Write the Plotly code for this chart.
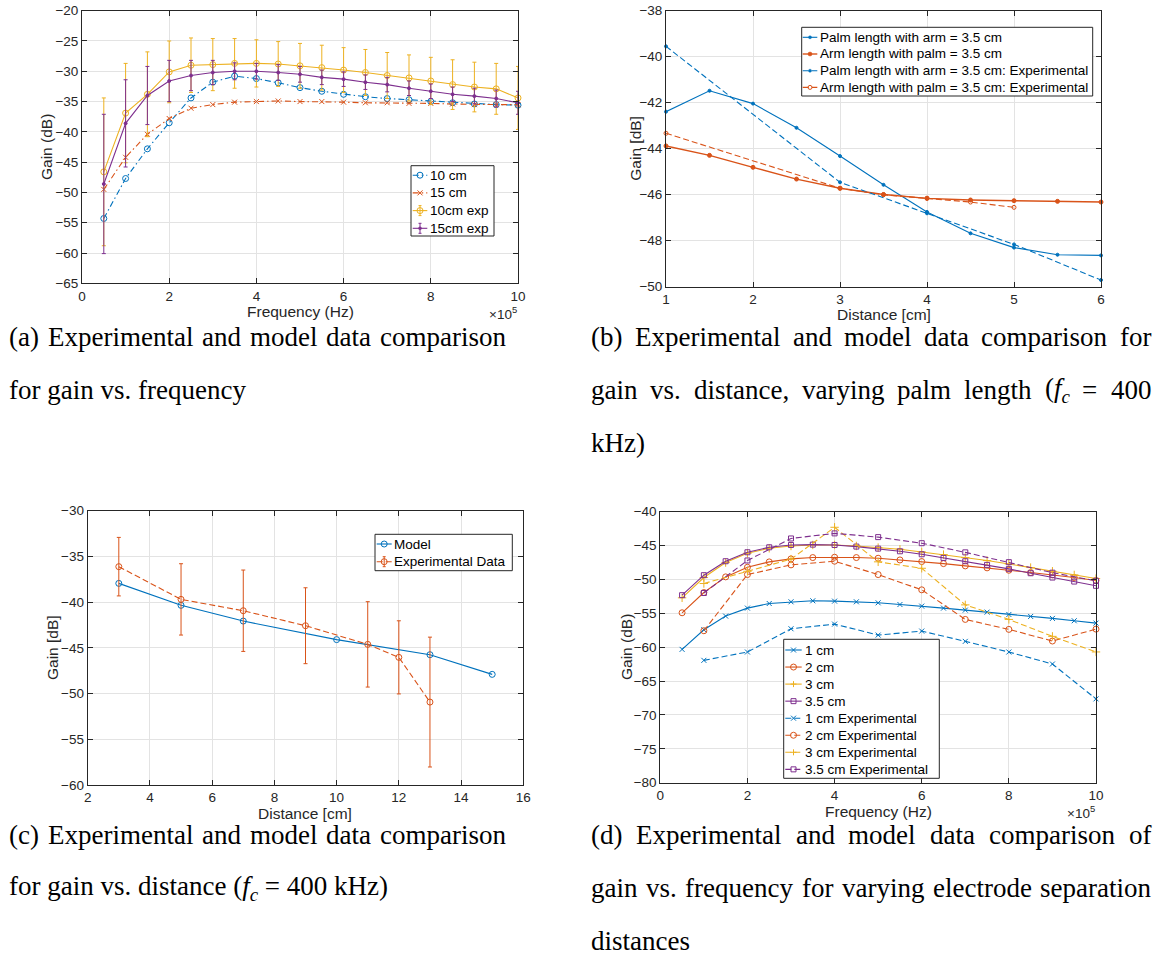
import re
import plotly.graph_objects as go

# ---------------- data ----------------
# (a) gain vs frequency
freq_a = [50000, 100000, 150000, 200000, 250000, 300000, 350000, 400000, 450000, 500000,
          550000, 600000, 650000, 700000, 750000, 800000, 850000, 900000, 950000, 1000000]
gain_10cm = [-54.3, -47.7, -42.8, -38.5, -34.4, -31.8, -30.8, -31.2, -31.9, -32.7,
             -33.3, -33.8, -34.2, -34.5, -34.7, -35.0, -35.2, -35.4, -35.5, -35.6]
gain_15cm = [-49.5, -44.2, -40.4, -37.8, -36.1, -35.5, -35.1, -35.0, -34.9, -35.0,
             -35.0, -35.1, -35.2, -35.2, -35.3, -35.3, -35.4, -35.5, -35.5, -35.5]
gain_10cm_exp = [-46.6, -36.9, -33.8, -30.1, -29.0, -28.9, -28.7, -28.7, -28.8, -29.1,
                 -29.4, -29.8, -30.2, -30.7, -31.1, -31.6, -32.2, -32.6, -32.9, -34.4]
err_10cm_exp = [12.2, 8.2, 7.0, 5.1, 4.5, 4.3, 4.1, 3.9, 3.7, 3.7,
                3.7, 3.7, 3.8, 3.8, 3.8, 3.9, 4.1, 4.1, 4.2, 5.2]
gain_15cm_exp = [-48.6, -38.6, -34.0, -31.6, -30.7, -30.2, -30.0, -30.0, -30.2, -30.5,
                 -31.0, -31.3, -31.8, -32.2, -32.8, -33.3, -33.8, -34.1, -34.5, -35.2]
err_15cm_exp = [11.5, 7.2, 4.8, 3.4, 2.5, 2.0, 1.4, 1.3, 1.3, 1.3,
                1.2, 1.2, 1.2, 1.2, 1.2, 1.2, 1.2, 1.3, 1.4, 1.9]

# (b) gain vs distance
dist_b = [1, 1.5, 2, 2.5, 3, 3.5, 4, 4.5, 5, 5.5, 6]
palm_model = [-42.39, -41.48, -42.04, -43.09, -44.32, -45.57, -46.75, -47.68, -48.30, -48.61, -48.64]
arm_model = [-43.88, -44.29, -44.81, -45.32, -45.72, -45.99, -46.16, -46.23, -46.26, -46.29, -46.32]
palm_exp_dist = [1, 3, 4, 5, 6]
palm_exp = [-39.55, -45.46, -46.81, -48.16, -49.71]
arm_exp_dist = [1, 3, 3.5, 4, 4.5, 5]
arm_exp = [-43.33, -45.72, -46.0, -46.15, -46.32, -46.55]

# (c) gain vs distance at 400 kHz
dist_model_c = [3, 5, 7, 10, 13, 15]
model_c = [-37.95, -40.35, -42.07, -44.1, -45.75, -47.9]
dist_exp_c = [3, 5, 7, 9, 11, 12, 13]
exp_c = [-36.12, -39.7, -40.94, -42.58, -44.62, -46.04, -50.93]
err_c = [3.2, 3.9, 4.45, 4.15, 4.67, 4.0, 7.1]

# (d) gain vs frequency, electrode separation
freq_d_model = freq_a
g_1cm = [-60.32, -57.42, -55.41, -54.23, -53.55, -53.3, -53.15, -53.2, -53.3, -53.45,
         -53.7, -53.94, -54.23, -54.53, -54.82, -55.17, -55.46, -55.75, -56.1, -56.44]
g_2cm = [-54.92, -51.93, -49.62, -48.2, -47.41, -46.97, -46.77, -46.72, -46.77, -46.87,
         -47.12, -47.36, -47.66, -48.0, -48.29, -48.64, -48.98, -49.33, -49.72, -50.16]
g_3cm = [-52.71, -49.72, -47.51, -46.13, -45.4, -45.06, -44.91, -44.91, -45.06, -45.3,
         -45.55, -45.94, -46.33, -46.77, -47.21, -47.71, -48.25, -48.79, -49.33, -49.87]
g_35cm = [-52.32, -49.37, -47.31, -45.99, -45.25, -44.91, -44.86, -44.91, -45.15, -45.45,
          -45.84, -46.28, -46.82, -47.31, -47.85, -48.44, -49.08, -49.72, -50.31, -50.94]
freq_d_exp = [100000, 200000, 300000, 400000, 500000, 600000, 700000, 800000, 900000, 1000000]
e_1cm = [-61.94, -60.71, -57.28, -56.59, -58.21, -57.62, -59.14, -60.71, -62.48, -67.63]
e_2cm = [-57.57, -49.28, -47.85, -47.31, -49.28, -51.53, -55.9, -57.37, -59.09, -57.33]
e_3cm = [-50.6, -48.8, -47.0, -42.3, -47.4, -48.35, -53.75, -55.9, -58.4, -60.7]
e_35cm = [-52.0, -47.2, -43.95, -43.2, -43.75, -44.65, -46.0, -47.45, -49.0, -50.2]

# tick labels
freq_tickvals = [0, 200000, 400000, 600000, 800000, 1000000]
freq_ticktext = ["0", "2", "4", "6", "8", "10"]
ticks_a_y = [-20, -25, -30, -35, -40, -45, -50, -55, -60, -65]
ticks_b_x = [1, 2, 3, 4, 5, 6]
ticks_b_y = [-38, -40, -42, -44, -46, -48, -50]
ticks_c_x = [2, 4, 6, 8, 10, 12, 14, 16]
ticks_c_y = [-30, -35, -40, -45, -50, -55, -60]
ticks_d_y = [-40, -45, -50, -55, -60, -65, -70, -75, -80]

captions = {
    "a": [("(a) Experimental and model data comparison", True),
          ("for gain vs. frequency", False)],
    "b": [("(b) Experimental and model data comparison for", True),
          ("gain vs. distance, varying palm length (<i>f<sub>c</sub></i> = 400", True),
          ("kHz)", False)],
    "c": [("(c) Experimental and model data comparison", True),
          ("for gain vs. distance (<i>f<sub>c</sub></i> = 400 kHz)", False)],
    "d": [("(d) Experimental and model data comparison of", True),
          ("gain vs. frequency for varying electrode separation", True),
          ("distances", False)],
}

# ---------------- styling ----------------
W, H = 1158, 974
SANS = "Liberation Sans, Arial, sans-serif"
SERIF = "Liberation Serif, Times New Roman, serif"
BLUE, ORANGE, YELLOW, PURPLE = "#0072BD", "#D95319", "#EDB120", "#7E2F8E"
TXT = "#262626"
GRID = "#e3e3e3"
TICK_SIZE = 13.5
LABEL_SIZE = 15.5
LEG_SIZE = 13.5
CAP_SIZE = 27
SOLID = "solid"
DASH = "6px,3px"
DASHDOT = "6px,3px,1.5px,3px"


def px(x):
    return x / W


def py(y):
    return 1 - y / H


# series specs: (x, y, name, color, dash, symbol, marker size, line width, errors)
series = {
    "a": [(freq_a, gain_10cm, "10 cm", BLUE, DASHDOT, "circle-open", 6, 1.1, None),
          (freq_a, gain_15cm, "15 cm", ORANGE, DASHDOT, "x-thin", 5, 1.1, None),
          (freq_a, gain_10cm_exp, "10cm exp", YELLOW, SOLID, "circle-open", 6, 1.1, err_10cm_exp),
          (freq_a, gain_15cm_exp, "15cm exp", PURPLE, SOLID, "circle", 3, 1.1, err_15cm_exp)],
    "b": [(dist_b, palm_model, "Palm length with arm = 3.5 cm", BLUE, SOLID, "circle", 3, 1.1, None),
          (dist_b, arm_model, "Arm length with palm = 3.5 cm", ORANGE, SOLID, "circle", 4, 1.4, None),
          (palm_exp_dist, palm_exp, "Palm length with arm = 3.5 cm: Experimental", BLUE, DASH, "circle", 3, 1.1, None),
          (arm_exp_dist, arm_exp, "Arm length with palm = 3.5 cm: Experimental", ORANGE, DASH, "circle-open", 4, 1.1, None)],
    "c": [(dist_model_c, model_c, "Model", BLUE, SOLID, "circle-open", 6, 1.1, None),
          (dist_exp_c, exp_c, "Experimental Data", ORANGE, DASH, "circle-open", 6, 1.1, err_c)],
    "d": [(freq_d_model, g_1cm, "1 cm", BLUE, SOLID, "x-thin", 5, 1.1, None),
          (freq_d_model, g_2cm, "2 cm", ORANGE, SOLID, "circle-open", 6, 1.1, None),
          (freq_d_model, g_3cm, "3 cm", YELLOW, SOLID, "cross-thin", 6, 1.1, None),
          (freq_d_model, g_35cm, "3.5 cm", PURPLE, SOLID, "square-open", 5, 1.1, None),
          (freq_d_exp, e_1cm, "1 cm Experimental", BLUE, DASH, "x-thin", 5, 1.1, None),
          (freq_d_exp, e_2cm, "2 cm Experimental", ORANGE, DASH, "circle-open", 6, 1.1, None),
          (freq_d_exp, e_3cm, "3 cm Experimental", YELLOW, DASH, "cross-thin", 6, 1.1, None),
          (freq_d_exp, e_35cm, "3.5 cm Experimental", PURPLE, DASH, "square-open", 5, 1.1, None)],
}
AX_IDX = {"a": "", "b": "2", "c": "3", "d": "4"}

# panel boxes in pixels: (left, top, right, bottom)
boxes = {
    "a": (82, 10.7, 518, 283.3),
    "b": (666, 10.7, 1101, 286.7),
    "c": (87.7, 510.7, 523.3, 785),
    "d": (660.3, 511.7, 1096, 782.7),
}

fig = go.Figure()
for key, lst in series.items():
    idx = AX_IDX[key]
    for xv, yv, name, color, dash, sym, ms, lw, err in lst:
        tr = dict(x=xv, y=yv, name=name, mode="lines+markers",
                  line=dict(color=color, width=lw, dash=dash),
                  marker=dict(symbol=sym, size=ms, color=color,
                              line=dict(color=color, width=1)),
                  xaxis="x" + idx, yaxis="y" + idx, cliponaxis=False,
                  showlegend=False)
        if err is not None:
            tr["error_y"] = dict(type="data", array=err, visible=True, color=color,
                                 thickness=1, width=2)
        fig.add_trace(go.Scatter(**tr))


def axis(dom, anchor, rng, tickvals, ticktext=None):
    d = dict(domain=dom, anchor=anchor, range=rng, tickvals=tickvals,
             showline=True, linecolor=TXT, linewidth=1, mirror="ticks",
             ticks="inside", ticklen=5, tickcolor=TXT, tickwidth=1,
             showgrid=True, gridcolor=GRID, gridwidth=1, zeroline=False,
             tickfont=dict(family=SANS, size=TICK_SIZE, color=TXT),
             automargin=False, fixedrange=True)
    if ticktext is not None:
        d["ticktext"] = ticktext
    return d


layout_axes = {}
specs = [
    ("a", [0, 1000000], [-65, -20], freq_tickvals, freq_ticktext, ticks_a_y),
    ("b", [1, 6], [-50, -38], ticks_b_x, None, ticks_b_y),
    ("c", [2, 16], [-60, -30], ticks_c_x, None, ticks_c_y),
    ("d", [0, 1000000], [-80, -40], freq_tickvals, freq_ticktext, ticks_d_y),
]
for key, xr, yr, xt, xtt, yt in specs:
    idx = AX_IDX[key]
    l, t, r, b = boxes[key]
    layout_axes["xaxis" + idx] = axis([px(l), px(r)], "y" + idx, xr, xt, xtt)
    layout_axes["yaxis" + idx] = axis([py(b), py(t)], "x" + idx, yr, yt)

annotations = []
shapes = []


def label(text, x, y, angle=0, size=LABEL_SIZE, xanchor="center", font=SANS, color=TXT):
    annotations.append(dict(text=text, x=px(x), y=py(y), xref="paper", yref="paper",
                            showarrow=False, textangle=angle, xanchor=xanchor,
                            yanchor="middle", borderpad=0,
                            font=dict(family=font, size=size, color=color)))


def pbox(x0, y0, x1, y1):
    return dict(xref="paper", yref="paper", x0=px(x0), x1=px(x1), y0=py(y0), y1=py(y1))


def seg(x0, y0, x1, y1, color, dash=SOLID, width=1.0):
    shapes.append(dict(type="line", line=dict(color=color, width=width, dash=dash),
                       **pbox(x0, y0, x1, y1)))


def glyph(sym, cx, cy, color, ms):
    r = ms / 2
    if sym == "circle-open":
        shapes.append(dict(type="circle", line=dict(color=color, width=1),
                           fillcolor="rgba(0,0,0,0)", **pbox(cx - r, cy - r, cx + r, cy + r)))
    elif sym == "circle":
        shapes.append(dict(type="circle", line=dict(color=color, width=0.5),
                           fillcolor=color, **pbox(cx - r, cy - r, cx + r, cy + r)))
    elif sym == "square-open":
        shapes.append(dict(type="rect", line=dict(color=color, width=1),
                           fillcolor="rgba(0,0,0,0)", **pbox(cx - r, cy - r, cx + r, cy + r)))
    elif sym == "x-thin":
        seg(cx - r, cy - r, cx + r, cy + r, color)
        seg(cx - r, cy + r, cx + r, cy - r, color)
    elif sym == "cross-thin":
        seg(cx - r, cy, cx + r, cy, color)
        seg(cx, cy - r, cx, cy + r, color)


# legend layout per panel: box (l, t, r, b), first row y, row step, glyph x0, x1, text x
legend_geom = {
    "a": ((411, 165.7, 494, 236), 175.2, 17.7, 412.7, 427.3, 429.3),
    "b": ((801.7, 27.3, 1092.7, 96), 37.3, 16.7, 802.7, 817.3, 819.0),
    "c": ((375, 534.3, 512.3, 570.7), 544.0, 17.7, 376.7, 391.7, 393.3),
    "d": ((783.7, 639.3, 939.3, 778.3), 650.0, 17.05, 785.3, 801.7, 804.0),
}
for key, ((l, t, r, b), y0, step, gx0, gx1, tx) in legend_geom.items():
    shapes.append(dict(type="rect", line=dict(color=TXT, width=1), fillcolor="white",
                       **pbox(l, t, r, b)))
    for i, (xv, yv, name, color, dash, sym, ms, lw, err) in enumerate(series[key]):
        yc = y0 + i * step
        seg(gx0, yc, gx1, yc, color, dash=dash, width=lw)
        cx = (gx0 + gx1) / 2
        if err is not None:
            seg(cx, yc - 5, cx, yc + 5, color)
            seg(cx - 1.5, yc - 5, cx + 1.5, yc - 5, color)
            seg(cx - 1.5, yc + 5, cx + 1.5, yc + 5, color)
        glyph(sym, cx, yc, color, ms)
        label(name, tx, yc, size=LEG_SIZE, xanchor="left", color="#000")

# axis titles
label("Frequency (Hz)", 300, 311)
label("Gain (dB)", 46, 147, angle=-90)
label("×10<sup>5</sup>", 518, 313, size=TICK_SIZE, xanchor="right")
label("Distance [cm]", 883.5, 314)
label("Gain [dB]", 636, 148.7, angle=-90)
label("Distance [cm]", 305.5, 813)
label("Gain [dB]", 52, 648, angle=-90)
label("Frequency (Hz)", 878, 811)
label("Gain (dB)", 626, 647, angle=-90)
label("×10<sup>5</sup>", 1096, 812, size=TICK_SIZE, xanchor="right")

# captions (Times metrics for justification)
TW = {' ': 250, '(': 333, ')': 333, '.': 250, ',': 250, '=': 564, ':': 278,
      'a': 444, 'b': 500, 'c': 444, 'd': 500, 'e': 444, 'f': 333, 'g': 500, 'h': 500,
      'i': 278, 'k': 500, 'l': 278, 'm': 778, 'n': 500, 'o': 500, 'p': 500, 'q': 500,
      'r': 333, 's': 389, 't': 278, 'u': 500, 'v': 500, 'w': 722, 'x': 500, 'y': 500,
      'z': 444, 'E': 611, 'H': 722, '\x01': 589}
for dch in "0123456789":
    TW[dch] = 500


def measure(word):
    s = word.replace("<i>f<sub>c</sub></i>", "\x01")
    s = re.sub(r"<[^>]+>", "", s)
    return sum(TW.get(ch, 500) for ch in s) / 1000 * CAP_SIZE


cap_layout = {"a": (8, 505, [337, 390]), "b": (590, 1150, [337, 390, 443]),
              "c": (8, 505, [835, 888]), "d": (590, 1150, [835, 888, 941])}
for key, lines in captions.items():
    x0, x1, ys = cap_layout[key]
    for (text, just), yline in zip(lines, ys):
        if not just:
            label(text, x0, yline, size=CAP_SIZE, xanchor="left", font=SERIF, color="#000")
            continue
        words = text.split(" ")
        widths = [measure(w) for w in words]
        gap = (x1 - x0 - sum(widths)) / (len(words) - 1)
        cur = x0
        for w, wd in zip(words, widths):
            label(w, cur, yline, size=CAP_SIZE, xanchor="left", font=SERIF, color="#000")
            cur += wd + gap

fig.update_layout(
    width=W, height=H, margin=dict(l=0, r=0, t=0, b=0),
    paper_bgcolor="white", plot_bgcolor="white",
    showlegend=False, annotations=annotations, shapes=shapes,
    **layout_axes,
)

fig.write_html("out.html")
